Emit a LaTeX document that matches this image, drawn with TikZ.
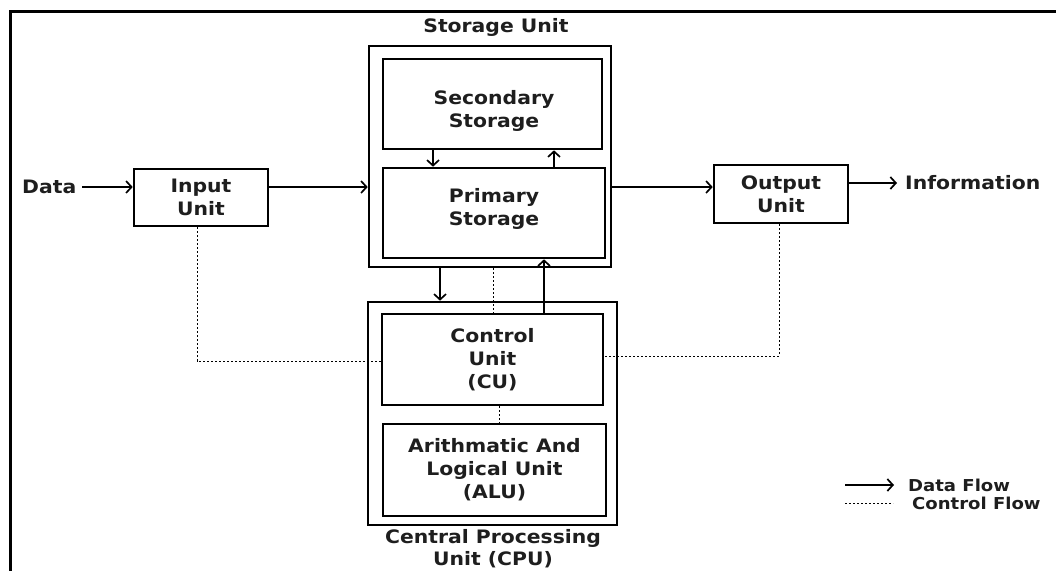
\documentclass[tikz,border=0pt]{standalone}
\usepackage{fontspec}
\newfontfamily\lblfont[FakeStretch=1.1]{DejaVu Sans}
\usetikzlibrary{arrows.meta}
\definecolor{txt}{HTML}{1E1E1E}
\begin{document}
\begin{tikzpicture}[x=1pt,y=-1pt,
  box/.style={draw=black, line width=2.6pt, inner sep=0pt, align=center,
    font=\lblfont\bfseries\fontsize{18.5}{23}\selectfont, text=txt},
  lbl/.style={inner sep=0pt, align=center,
    font=\lblfont\bfseries\fontsize{18.5}{22}\selectfont, text=txt},
  leg/.style={inner sep=0pt, anchor=west,
    font=\lblfont\bfseries\fontsize{16.4}{19}\selectfont, text=txt},
  arr/.style={line width=1.2pt, -{Straight Barb[length=5.5pt,width=12pt,line width=1.7pt]}},
  ctl/.style={line width=1pt, dash pattern=on 2pt off 2pt},
]
\fill[white] (0,0) rectangle (1056,571);
\useasboundingbox (0,0) rectangle (1056,571);
% frame
\draw[line width=3pt] (1056,11) -- (10,11) -- (10,571);

% titles
\node[lbl] (sutitle) at (496,27) {Storage Unit};
\node[lbl] (cputitle) at (493,549) {Central Processing\\Unit (CPU)};

% storage unit
\node[box, minimum width=242pt, minimum height=221pt] (storage) at (490,156.5) {};
\node[box, minimum width=219pt, minimum height=90pt] (secondary) at (492.5,104) {};
\node[lbl, font=\lblfont\bfseries\fontsize{18.5}{23}\selectfont] (sectext) at (494,111) {Secondary\\Storage};
\node[box, minimum width=222pt, minimum height=90pt] (primary) at (494,213) {};
\node[lbl, font=\lblfont\bfseries\fontsize{18.5}{23}\selectfont] (primtext) at (494,209) {Primary\\Storage};

% CPU
\node[box, minimum width=249pt, minimum height=223pt] (cpu) at (492.5,413.5) {};
\node[box, minimum width=221pt, minimum height=91pt] (control) at (492.5,359.5) {Control\\Unit\\(CU)};
\node[box, minimum width=223pt, minimum height=92pt] (alu) at (494.5,470) {Arithmatic And\\Logical Unit\\(ALU)};

% input / output
\node[box, minimum width=134pt, minimum height=57pt] (input) at (201,197.5) {Input\\Unit};
\node[box, minimum width=134pt, minimum height=58pt] (output) at (781,194) {Output\\Unit};
\node[lbl, anchor=west] (data) at (22,187) {Data};
\node[lbl, anchor=west] (info) at (905,183) {Information};

% helper coordinates
\coordinate (xa) at (433,0);
\coordinate (xb) at (554,0);
\coordinate (xc) at (440,0);
\coordinate (xd) at (544,0);
\coordinate (xe) at (493,0);
\coordinate (xf) at (499,0);
\coordinate (xi) at (197,0);
\coordinate (xo) at (779,0);
\coordinate (yl) at (0,361);
\coordinate (yr) at (0,356);

% data flow
\draw[arr] ([xshift=6pt]data.east) -- (data.east -| input.west);
\draw[arr] (input.east |- data) -- (storage.west |- data);
\draw[arr] (storage.east |- data) -- (output.west |- data);
\draw[arr] (output.east |- info) -- ([xshift=-8pt]info.west);
\draw[arr] (secondary.south -| xa) -- (primary.north -| xa);
\draw[arr] (primary.north -| xb) -- (secondary.south -| xb);
\draw[arr] (storage.south -| xc) -- (cpu.north -| xc);
\draw[arr] (control.north -| xd) -- (primary.south -| xd);

% control flow
\draw[ctl] (storage.south -| xe) -- (control.north -| xe);
\draw[ctl] (control.south -| xf) -- (alu.north -| xf);
\draw[ctl] (input.south -| xi) -- (xi |- yl) -- (control.west |- yl);
\draw[ctl] (output.south -| xo) -- (xo |- yr) -- (control.east |- yr);

% legend
\coordinate (l1) at (845,485);
\coordinate (l2) at (845,503);
\node[leg] (legdata) at (908,485) {Data Flow};
\node[leg] (legctl) at (912,503) {Control Flow};
\draw[arr] (l1) -- ([xshift=-14pt]legdata.west);
\draw[ctl] (l2) -- ([xshift=-19pt]legctl.west);
\end{tikzpicture}
\end{document}
